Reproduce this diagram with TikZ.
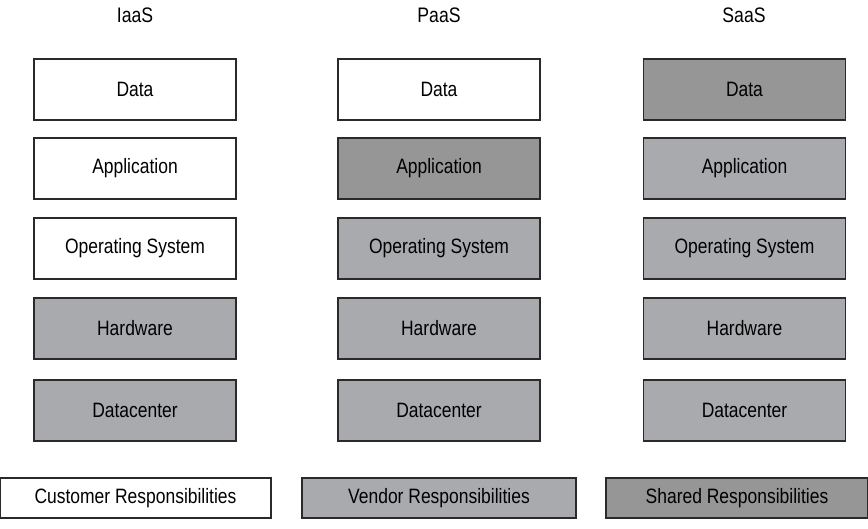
\documentclass[tikz,border=0pt]{standalone}
\usepackage{fontspec}
\setmainfont[FakeStretch=0.84]{Liberation Sans}
\definecolor{vendorgray}{HTML}{A9AAAE}
\definecolor{sharedgray}{HTML}{969696}
\definecolor{edgegray}{HTML}{2A2A2A}
\begin{document}
\begin{tikzpicture}[x=1pt,y=-1pt,
  layer/.style={draw=edgegray,line width=1.2pt,minimum width=202pt,minimum height=61pt,inner sep=0pt,font=\fontsize{20.8}{24}\selectfont},
  cust/.style={layer,fill=white},
  vend/.style={layer,fill=vendorgray},
  shar/.style={layer,fill=sharedgray},
  title/.style={font=\fontsize{21}{24}\selectfont,inner sep=0pt},
  legend/.style={draw=edgegray,line width=1.2pt,minimum height=40pt,inner sep=0pt,font=\fontsize{20.8}{24}\selectfont}]
\useasboundingbox (0,0) rectangle (868,528);
% titles
\node[title] (tI) at (135,15) {IaaS};
\node[title] (tP) at (439,15) {PaaS};
\node[title] (tS) at (744,15) {SaaS};
% IaaS
\node[cust] (i1) at (135,89.5) {Data};
\node[cust] (i2) at (135,168.5) {Application};
\node[cust] (i3) at (135,248.5) {Operating System};
\node[vend] (i4) at (135,328.5) {Hardware};
\node[vend] (i5) at (135,410.5) {Datacenter};
% PaaS
\node[cust] (p1) at (439,89.5) {Data};
\node[shar] (p2) at (439,168.5) {Application};
\node[vend] (p3) at (439,248.5) {Operating System};
\node[vend] (p4) at (439,328.5) {Hardware};
\node[vend] (p5) at (439,410.5) {Datacenter};
% SaaS
\node[shar] (s1) at (744.5,89.5) {Data};
\node[vend] (s2) at (744.5,168.5) {Application};
\node[vend] (s3) at (744.5,248.5) {Operating System};
\node[vend] (s4) at (744.5,328.5) {Hardware};
\node[vend] (s5) at (744.5,410.5) {Datacenter};
% legend
\node[legend,fill=white,minimum width=271pt] (lc) at (135.5,498) {Customer Responsibilities};
\node[legend,fill=vendorgray,minimum width=274pt] (lv) at (439,498) {Vendor Responsibilities};
\node[legend,fill=sharedgray,minimum width=262pt] (ls) at (737,498) {Shared Responsibilities};
\end{tikzpicture}
\end{document}
